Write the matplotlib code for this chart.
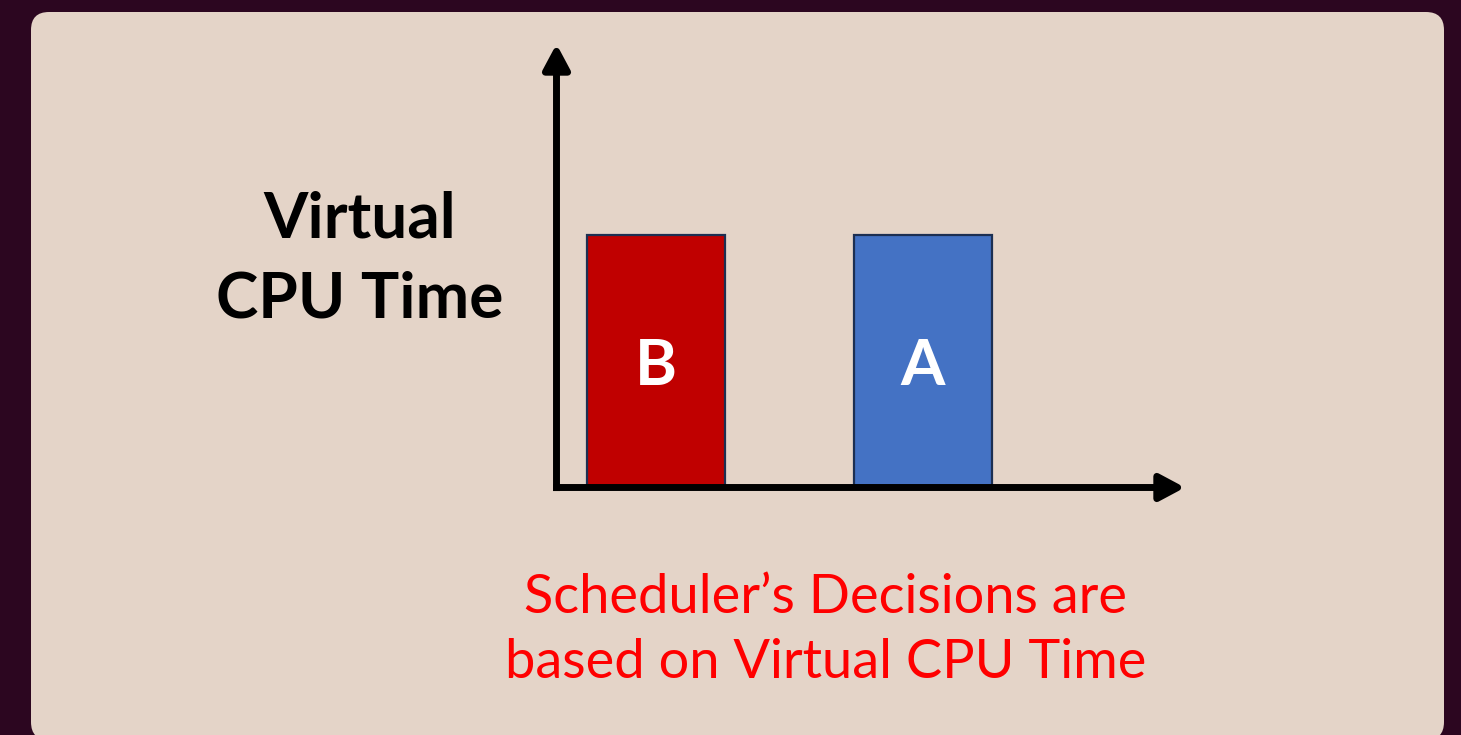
"""Slide-style bar chart: virtual CPU time of two tasks."""

import matplotlib
matplotlib.use("Agg")
import matplotlib.pyplot as plt
from matplotlib.patches import FancyBboxPatch

# ---- data ----
TASKS = ["B", "A"]
VIRTUAL_TIME = [1.0, 1.0]
BAR_COLORS = ["#c00000", "#4472c4"]

Y_LABEL = "Virtual\nCPU Time"
NOTE = "Scheduler\u2019s Decisions are\nbased on Virtual CPU Time"

W, H = 1461, 735
BG = "#2c0620"
PANEL = "#e4d4c8"
FONT = ["Lato", "DejaVu Sans"]

fig = plt.figure(figsize=(W / 100, H / 100), dpi=100, facecolor=BG)

# background axes in pixel coordinates (y downwards)
bg = fig.add_axes((0, 0, 1, 1))
bg.set_xlim(0, W)
bg.set_ylim(H, 0)
bg.axis("off")
bg.add_patch(FancyBboxPatch((31, 12), 1413, 728,
                            boxstyle="round,pad=0,rounding_size=18",
                            facecolor=PANEL, edgecolor="none"))

bg.text(360, 259, Y_LABEL, ha="center", va="center", fontsize=46,
        fontweight="bold", color="black", family=FONT, linespacing=1.5)
bg.text(826, 630, NOTE, ha="center", va="center", fontsize=39,
        color="#ff0000", family=FONT, linespacing=1.38)

# bar axes: left edge at the y axis line, bottom at the x axis line
x0, y0, x1, y1 = 556.5, 487.5, 1185, 44
ax = fig.add_axes((x0 / W, 1 - y0 / H, (x1 - x0) / W, (y0 - y1) / H))
ax.set_facecolor("none")
for s in ax.spines.values():
    s.set_visible(False)
ax.set_xticks([])
ax.set_yticks([])

pos = range(len(TASKS))
bars = ax.bar(pos, VIRTUAL_TIME, width=0.518, color=BAR_COLORS,
              edgecolor="#1c2f52", linewidth=1.6, zorder=2)
for b, name in zip(bars, TASKS):
    ax.text(b.get_x() + b.get_width() / 2, b.get_height() * 0.48, name,
            ha="center", va="center", fontsize=46, fontweight="bold",
            color="white", family=FONT, zorder=3)

ax.set_xlim(-0.374, 1.985)
ax.set_ylim(0, 1.755)

arrow = dict(arrowstyle="-|>,head_length=15,head_width=8", mutation_scale=1,
             lw=5, color="black", shrinkA=0, shrinkB=0, capstyle="butt")
ax.annotate("", xy=(0, 1), xytext=(0, -0.008), xycoords="axes fraction",
            arrowprops=arrow, annotation_clip=False, zorder=4)
ax.annotate("", xy=(1, 0), xytext=(-0.005, 0), xycoords="axes fraction",
            arrowprops=arrow, annotation_clip=False, zorder=4)

fig.savefig("out.png", dpi=100, facecolor=BG)
